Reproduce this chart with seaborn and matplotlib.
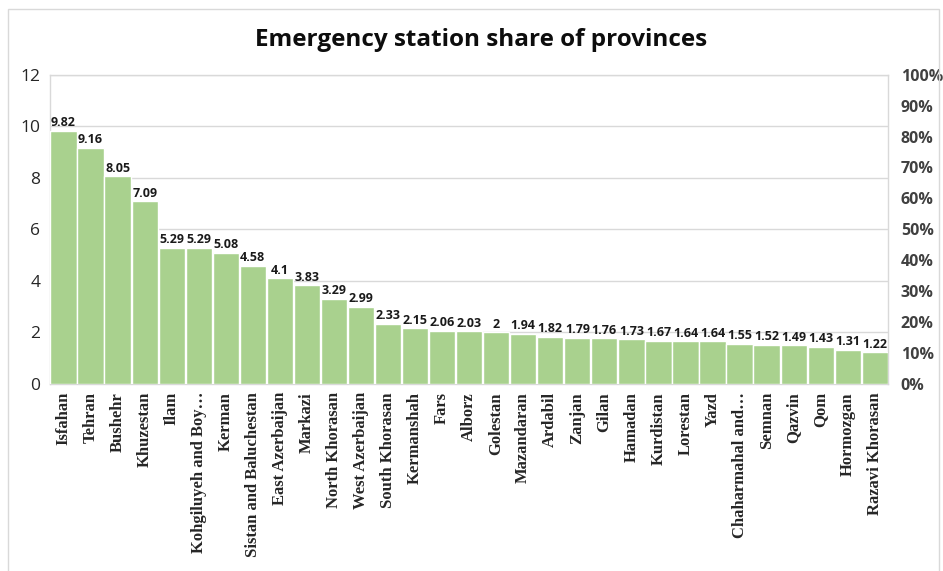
import matplotlib.pyplot as plt
import matplotlib.ticker as mticker
import numpy as np
import seaborn as sns
from matplotlib.patches import Rectangle

provinces = ['Isfahan', 'Tehran', 'Bushehr', 'Khuzestan', 'Ilam',
             'Kohgiluyeh and Boy…', 'Kerman', 'Sistan and Baluchestan',
             'East Azerbaijan', 'Markazi', 'North Khorasan', 'West Azerbaijan',
             'South Khorasan', 'Kermanshah', 'Fars', 'Alborz', 'Golestan',
             'Mazandaran', 'Ardabil', 'Zanjan', 'Gilan', 'Hamadan', 'Kurdistan',
             'Lorestan', 'Yazd', 'Chaharmahal and…', 'Semnan', 'Qazvin', 'Qom',
             'Hormozgan', 'Razavi Khorasan']
shares = [9.82, 9.16, 8.05, 7.09, 5.29, 5.29, 5.08, 4.58, 4.1, 3.83, 3.29, 2.99,
          2.33, 2.15, 2.06, 2.03, 2, 1.94, 1.82, 1.79, 1.76, 1.73, 1.67, 1.64,
          1.64, 1.55, 1.52, 1.49, 1.43, 1.31, 1.22]
left_ticks = [0, 2, 4, 6, 8, 10, 12]
right_ticks = [0, 0.1, 0.2, 0.3, 0.4, 0.5, 0.6, 0.7, 0.8, 0.9, 1.0]

sns.set_theme(style='white')
plt.rcParams['font.family'] = ['Open Sans', 'DejaVu Sans']

fig = plt.figure(figsize=(9.43, 5.71), dpi=100)
ax = fig.add_axes([0.053, 0.328, 0.889, 0.541])

sns.barplot(x=provinces, y=shares, color='#A9D18E', edgecolor='white',
            linewidth=1.0, width=0.97, saturation=1, ax=ax, zorder=3)

ax.set_xlim(-0.5, len(provinces) - 0.5)
ax.set_ylim(0, 12)
ax.set_yticks(left_ticks)
ax.yaxis.grid(True, color='#D9D9D9', linewidth=1.0, zorder=0)
ax.tick_params(axis='y', labelsize=12.5, colors='#262626', length=0, pad=7)
ax.tick_params(axis='x', length=0, pad=6)
for s in ax.spines.values():
    s.set_color('#D9D9D9')
    s.set_linewidth(1.0)

ax.set_xticks(range(len(provinces)))
ax.set_xticklabels(provinces, rotation=90, family=['Liberation Serif'],
                   fontweight='bold', fontsize=12, color='#262626')

for i, v in enumerate(shares):
    ax.text(i, v + 0.06, f'{v:g}', ha='center', va='bottom', fontsize=9,
            fontweight='bold', color='#1a1a1a', zorder=5)

ax2 = ax.twinx()
ax2.set_ylim(0, 1)
ax2.set_yticks(right_ticks)
ax2.yaxis.set_major_formatter(mticker.PercentFormatter(1.0, decimals=0))
ax2.tick_params(axis='y', labelsize=11.5, colors='#404040', length=0, pad=9)
for lab in ax2.get_yticklabels():
    lab.set_fontweight('bold')
for s in ax2.spines.values():
    s.set_visible(False)

fig.text(0.51, 0.93, 'Emergency station share of provinces', ha='center',
         va='center', fontsize=17.5, fontweight='bold', color='#0d0d0d')

fig.patches.append(Rectangle((0.008, -0.1), 0.988, 1.085, transform=fig.transFigure,
                             fill=False, edgecolor='#D9D9D9', linewidth=1.0))

fig.savefig('out.png', dpi=100, facecolor='white')
